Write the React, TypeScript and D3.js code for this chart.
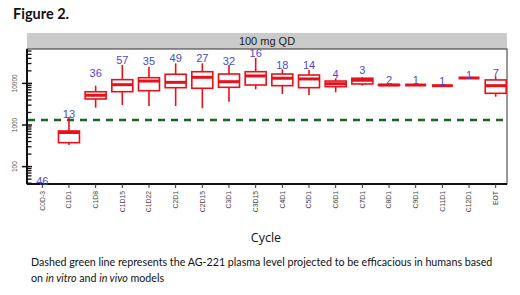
import React from "react";
import * as d3 from "d3";

const categories = ["C0D-3","C1D1","C1D8","C1D15","C1D22","C2D1","C2D15","C3D1","C3D15","C4D1","C5D1","C6D1","C7D1","C8D1","C9D1","C11D1","C12D1","EOT"];
const counts = [46,13,36,57,35,49,27,32,16,18,14,4,3,2,1,1,1,7];
const whiskerLow = [null,330,2610,3030,2860,2860,2520,3630,7210,5560,5260,6110,8820,9150,9150,8820,13500,4790];
const q1 = [null,376,4220,6320,6670,7890,7630,8060,9150,8820,7890,8340,9680,8950,9150,8820,13500,5780];
const median = [null,660,5180,9310,11400,10600,14000,11000,15100,13300,12800,9840,11900,9150,9150,8820,13500,8820];
const q3 = [null,718,6300,12300,13700,16600,19100,16800,19100,16800,15900,11400,13300,9350,9150,8820,13500,12100];
const whiskerHigh = [null,1556,8810,27700,25200,30400,30400,27700,40800,21800,21000,13300,14100,9150,9150,8820,13500,14500];
const maxValue = [36.7,1473,14300,29200,28200,33300,33300,28200,43100,22200,22200,13300,16800,9680,9680,9150,12800,14500];
const efficaciousLevel = 1320;
const yTickValues = [100, 1000, 10000];
const panelTitle = "100 mg QD";
const xTitle = "Cycle";
const figureTitle = "Figure 2.";

const W = 520, H = 295;
const plot = { left: 27, right: 507, top: 49, bottom: 184 };

export default function App() {
  const x = d3.scalePoint<string>().domain(categories).range([42.3, 495.7]);
  const y = d3.scaleLog().domain([38.2, 67100]).range([plot.bottom, plot.top]);
  const boxW = 21;
  const red = "#e8101a";
  const blue = "#4a4ad0";

  const minorTicks: number[] = [];
  for (let dec = 10; dec <= 10000; dec *= 10) {
    for (let m = 2; m <= 9; m++) {
      const v = dec * m;
      if (v >= 38.2 && v <= 67100) minorTicks.push(v);
    }
  }

  return (
    <svg width={W} height={H} style={{ position: "fixed", left: 0, top: 0, background: "#fff" }}
      fontFamily="Arial, 'Liberation Sans', sans-serif">
      <rect x={0} y={0} width={W} height={H} fill="#fff" />
      <text x={13} y={19} fontFamily="Lato, 'Open Sans', sans-serif" fontWeight="bold" fontSize={14.5} fill="#111">{figureTitle}</text>

      {/* strip */}
      <rect x={plot.left} y={33} width={plot.right - plot.left} height={plot.top - 33} fill="#cbcbcb" />
      <text x={(plot.left + plot.right) / 2} y={45} textAnchor="middle" fontSize={11} fill="#222">{panelTitle}</text>

      {/* frame */}
      <rect x={plot.left} y={plot.top} width={plot.right - plot.left} height={plot.bottom - plot.top} fill="#fff" stroke="#333" strokeWidth={1} />
      <line x1={plot.left} x2={plot.left} y1={plot.top} y2={plot.bottom} stroke="#111" strokeWidth={2} />
      <line x1={plot.left} x2={plot.right} y1={plot.bottom} y2={plot.bottom} stroke="#111" strokeWidth={2} />

      {/* y ticks */}
      {minorTicks.map((v) => (
        <line key={"m" + v} x1={plot.left} x2={plot.left + 4.5} y1={y(v)} y2={y(v)} stroke="#111" strokeWidth={1.3} />
      ))}
      {yTickValues.map((v) => (
        <g key={"t" + v}>
          <line x1={plot.left - 5} x2={plot.left + 5} y1={y(v)} y2={y(v)} stroke="#111" strokeWidth={1.5} />
          <text transform={`translate(${17},${y(v)}) rotate(-90)`} textAnchor="middle" fontSize={6.5} fill="#555">{v}</text>
        </g>
      ))}

      {/* x ticks */}
      {categories.map((c) => (
        <g key={"x" + c}>
          <line x1={x(c)} x2={x(c)} y1={plot.bottom} y2={plot.bottom + 4} stroke="#333" strokeWidth={1} />
          <text transform={`translate(${(x(c) as number) + 2.3},${191}) rotate(-90)`} textAnchor="end" fontSize={6.8} fill="#444">{c}</text>
        </g>
      ))}
      <text x={266} y={242} textAnchor="middle" fontFamily="'Open Sans', sans-serif" fontSize={12.5} fill="#111">{xTitle}</text>

      {/* reference line */}
      <line x1={plot.left + 1} x2={plot.right - 2} y1={y(efficaciousLevel)} y2={y(efficaciousLevel)}
        stroke="#19661f" strokeWidth={2.5} strokeDasharray="7,6" />

      {/* boxes */}
      {categories.map((c, i) => {
        const cx = x(c) as number;
        if (q1[i] == null) return null;
        const yq1 = y(q1[i] as number), yq3 = y(q3[i] as number);
        return (
          <g key={"b" + c}>
            <line x1={cx} x2={cx} y1={y(whiskerHigh[i] as number)} y2={yq3} stroke={red} strokeWidth={1.6} />
            <line x1={cx} x2={cx} y1={yq1} y2={y(whiskerLow[i] as number)} stroke={red} strokeWidth={1.6} />
            <rect x={cx - boxW / 2} y={yq3} width={boxW} height={Math.max(0, yq1 - yq3)} fill="#fff" stroke={red} strokeWidth={1.6} />
            <line x1={cx - boxW / 2} x2={cx + boxW / 2} y1={y(median[i] as number)} y2={y(median[i] as number)} stroke={red} strokeWidth={3} />
          </g>
        );
      })}

      {/* counts */}
      {categories.map((c, i) => (
        <text key={"n" + c} x={x(c)} y={y(maxValue[i])} textAnchor="middle" fontSize={11} fill={blue}>{counts[i]}</text>
      ))}

      {/* caption */}
      <text x={31} y={266} fontFamily="Lato, 'Open Sans', sans-serif" fontSize={10.7} fill="#111">
        Dashed green line represents the AG-221 plasma level projected to be efficacious in humans based
      </text>
      <text x={31} y={282} fontFamily="Lato, 'Open Sans', sans-serif" fontSize={10.7} fill="#111">
        on <tspan fontStyle="italic">in vitro</tspan> and <tspan fontStyle="italic">in vivo</tspan> models
      </text>
    </svg>
  );
}
